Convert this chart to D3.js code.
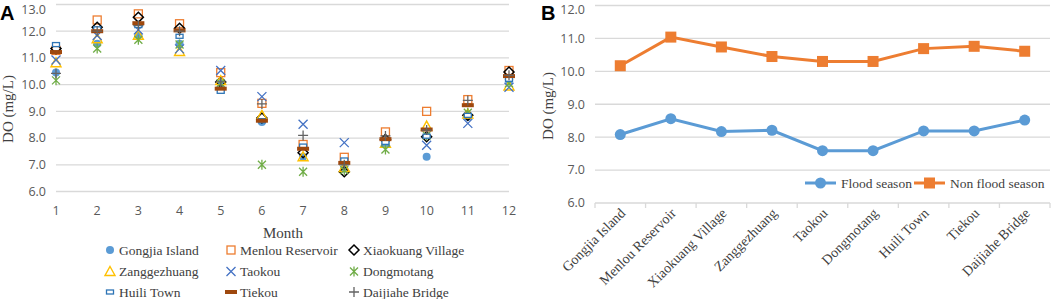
<!DOCTYPE html>
<html>
<head>
<meta charset="utf-8">
<script src="https://cdn.jsdelivr.net/npm/d3@7"></script>
<style>
  body { margin: 0; background: #fff; }
  .tick-label { font-family: "Open Sans", sans-serif; font-size: 12.5px; fill: #595959; }
  .serif { font-family: "Liberation Serif", "DejaVu Serif", serif; fill: #404040; }
  .panel { font-family: "Liberation Sans", Arial, sans-serif; font-weight: bold; font-size: 20px; fill: #000; }
</style>
</head>
<body>
<div id="chart"></div>
<script>
// ---- panel A data (DO by month, per site) ----
var months = [1, 2, 3, 4, 5, 6, 7, 8, 9, 10, 11, 12];
var gongjia      = [10.45, 11.53, 11.84, 11.53, 10.05, 8.60, 7.30, 6.85, 7.80, 7.30, 8.80, 10.15];
var menlou       = [11.28, 12.42, 12.65, 12.28, 10.45, 9.30, 7.76, 7.28, 8.23, 9.00, 9.44, 10.53];
var xiaokuang    = [11.35, 12.15, 12.52, 12.11, 10.10, 8.75, 7.45, 6.74, 7.95, 8.05, 8.85, 10.47];
var zanggezhuang = [10.82, 11.72, 11.85, 11.24, 10.15, 8.85, 7.30, 6.90, 7.80, 8.45, 8.90, 9.95];
var taokou       = [10.92, 11.84, 12.05, 11.34, 10.53, 9.55, 8.52, 7.83, 7.85, 7.73, 8.55, 9.90];
var dongmotang   = [10.16, 11.35, 11.68, 11.50, 10.05, 7.00, 6.74, 6.80, 7.57, 8.10, 8.95, 10.05];
var huili        = [11.50, 12.09, 12.21, 11.81, 9.75, 8.65, 7.70, 7.18, 7.84, 8.07, 8.85, 10.20];
var tiekou       = [11.22, 12.00, 12.30, 12.03, 9.85, 8.65, 7.60, 7.07, 7.96, 8.32, 9.23, 10.32];
var daijiahe     = [10.42, 12.00, 12.21, 12.00, 10.10, 9.28, 8.10, 7.00, 8.08, 8.30, 9.41, 10.35];

// ---- panel B data (seasonal mean per site) ----
var sites = ["Gongjia Island", "Menlou Reservoir", "Xiaokuang Village", "Zanggezhuang", "Taokou",
             "Dongmotang", "Huili Town", "Tiekou", "Daijiahe Bridge"];
var flood    = [8.08, 8.56, 8.17, 8.21, 7.59, 7.59, 8.19, 8.19, 8.52];
var nonFlood = [10.17, 11.04, 10.74, 10.45, 10.30, 10.30, 10.69, 10.76, 10.61];

var yTicksA = [6, 7, 8, 9, 10, 11, 12, 13];
var yTicksB = [6, 7, 8, 9, 10, 11, 12];

var seriesA = [
  { name: "Gongjia Island",    values: gongjia,      shape: "circle",   color: "#5B9BD5" },
  { name: "Menlou Reservoir",  values: menlou,       shape: "square",   color: "#ED7D31" },
  { name: "Xiaokuang Village", values: xiaokuang,    shape: "diamond",  color: "#000000" },
  { name: "Zanggezhuang",      values: zanggezhuang, shape: "triangle", color: "#FFC000" },
  { name: "Taokou",            values: taokou,       shape: "x",        color: "#4472C4" },
  { name: "Dongmotang",        values: dongmotang,   shape: "star",     color: "#70AD47" },
  { name: "Huili Town",        values: huili,        shape: "dash",     color: "#2E75B6" },
  { name: "Tiekou",            values: tiekou,       shape: "bar",      color: "#9E480E" },
  { name: "Daijiahe Bridge",   values: daijiahe,     shape: "plus",     color: "#636363" }
];

var svg = d3.select("#chart").append("svg")
  .attr("width", 1052)
  .attr("height", 299);

// draw one marker centred on (0,0) of the given group
function marker(g, shape, color) {
  if (shape === "circle") {
    g.append("circle").attr("r", 4).attr("fill", color);
  } else if (shape === "square") {
    g.append("rect").attr("x", -4).attr("y", -4).attr("width", 8).attr("height", 8)
      .attr("fill", "none").attr("stroke", color).attr("stroke-width", 1.3);
  } else if (shape === "diamond") {
    g.append("path").attr("d", "M0,-5L5,0L0,5L-5,0Z")
      .attr("fill", "none").attr("stroke", color).attr("stroke-width", 1.5);
  } else if (shape === "triangle") {
    g.append("path").attr("d", "M0,-5L5,4L-5,4Z")
      .attr("fill", "none").attr("stroke", color).attr("stroke-width", 1.4);
  } else if (shape === "x") {
    g.append("path").attr("d", "M-4.5,-4.5L4.5,4.5M-4.5,4.5L4.5,-4.5")
      .attr("stroke", color).attr("stroke-width", 1.3);
  } else if (shape === "star") {
    g.append("path").attr("d", "M-4,-4L4,4M-4,4L4,-4M0,-5L0,5")
      .attr("stroke", color).attr("stroke-width", 1.3);
  } else if (shape === "dash") {
    g.append("rect").attr("x", -3.5).attr("y", -2).attr("width", 7).attr("height", 4)
      .attr("fill", "#fff").attr("stroke", color).attr("stroke-width", 1.3);
  } else if (shape === "bar") {
    g.append("rect").attr("x", -6).attr("y", -2).attr("width", 12).attr("height", 4)
      .attr("fill", color);
  } else if (shape === "plus") {
    g.append("path").attr("d", "M-5,0L5,0M0,-5L0,5")
      .attr("stroke", color).attr("stroke-width", 1.3);
  }
}

// ================= Panel A =================
var xA = d3.scaleLinear().domain([1, 12]).range([56, 509]);
var yA = d3.scaleLinear().domain([6, 13]).range([191.5, 4.5]);

var gA = svg.append("g");

gA.selectAll(".gridA").data(yTicksA).enter().append("line")
  .attr("x1", xA(1)).attr("x2", xA(12))
  .attr("y1", function (d) { return yA(d); }).attr("y2", function (d) { return yA(d); })
  .attr("stroke", "#d9d9d9").attr("stroke-width", 1.3);

gA.selectAll(".ylabA").data(yTicksA).enter().append("text")
  .attr("class", "tick-label")
  .attr("x", 46).attr("y", function (d) { return Math.max(yA(d), 9.5); })
  .attr("dy", "0.35em").attr("text-anchor", "end")
  .text(function (d) { return d.toFixed(1); });

gA.selectAll(".xlabA").data(months).enter().append("text")
  .attr("class", "tick-label")
  .attr("x", function (d) { return xA(d); }).attr("y", 215)
  .attr("text-anchor", "middle")
  .text(function (d) { return d; });

gA.append("text").attr("class", "serif")
  .attr("x", 283).attr("y", 238).attr("text-anchor", "middle")
  .style("font-size", "15px").text("Month");

gA.append("text").attr("class", "serif")
  .attr("transform", "translate(13,109) rotate(-90)")
  .attr("text-anchor", "middle").style("font-size", "15px")
  .text("DO (mg/L)");

seriesA.forEach(function (s) {
  s.values.forEach(function (v, i) {
    var g = gA.append("g").attr("transform", "translate(" + xA(months[i]) + "," + yA(v) + ")");
    marker(g, s.shape, s.color);
  });
});

// legend A, 3 columns
var legCols = [110, 231, 354];
var legRows = [250, 271.5, 292];
seriesA.forEach(function (s, i) {
  var cx = legCols[i % 3], cy = legRows[Math.floor(i / 3)];
  var g = gA.append("g").attr("transform", "translate(" + cx + "," + cy + ")");
  marker(g, s.shape, s.color);
  gA.append("text").attr("class", "serif")
    .attr("x", cx + 9).attr("y", cy).attr("dy", "0.35em")
    .style("font-size", "13.5px").text(s.name);
});

svg.append("text").attr("class", "panel").attr("x", 0).attr("y", 20).text("A");

// ================= Panel B =================
var xB = d3.scaleBand().domain(sites).range([595, 1050]).padding(0);
var yB = d3.scaleLinear().domain([6, 12]).range([203, 5.5]);

var gB = svg.append("g");

gB.selectAll(".gridB").data(yTicksB).enter().append("line")
  .attr("x1", 595).attr("x2", 1050)
  .attr("y1", function (d) { return yB(d); }).attr("y2", function (d) { return yB(d); })
  .attr("stroke", "#d9d9d9").attr("stroke-width", 1.3);

// category ticks on the bottom axis
var bounds = sites.map(function (d) { return xB(d); }).concat([1050]);
gB.selectAll(".tickB").data(bounds).enter().append("line")
  .attr("x1", function (d) { return d; }).attr("x2", function (d) { return d; })
  .attr("y1", yB(6)).attr("y2", yB(6) + 5)
  .attr("stroke", "#d9d9d9").attr("stroke-width", 1.3);

gB.selectAll(".ylabB").data(yTicksB).enter().append("text")
  .attr("class", "tick-label")
  .attr("x", 585).attr("y", function (d) { return Math.max(yB(d), 9.5); })
  .attr("dy", "0.35em").attr("text-anchor", "end")
  .text(function (d) { return d.toFixed(1); });

gB.selectAll(".xlabB").data(sites).enter().append("text")
  .attr("class", "serif")
  .attr("transform", function (d) {
    return "translate(" + (xB(d) + xB.bandwidth() / 2 + 6) + "," + 214 + ") rotate(-45)";
  })
  .attr("text-anchor", "end").style("font-size", "14px")
  .text(function (d) { return d; });

gB.append("text").attr("class", "serif")
  .attr("transform", "translate(553,106) rotate(-90)")
  .attr("text-anchor", "middle").style("font-size", "15px")
  .text("DO (mg/L)");

var lineB = d3.line()
  .x(function (d, i) { return xB(sites[i]) + xB.bandwidth() / 2; })
  .y(function (d) { return yB(d); });

gB.append("path").datum(flood).attr("d", lineB)
  .attr("fill", "none").attr("stroke", "#5B9BD5").attr("stroke-width", 3);
gB.selectAll(".ptF").data(flood).enter().append("circle")
  .attr("cx", function (d, i) { return xB(sites[i]) + xB.bandwidth() / 2; })
  .attr("cy", function (d) { return yB(d); })
  .attr("r", 5.5).attr("fill", "#5B9BD5");

gB.append("path").datum(nonFlood).attr("d", lineB)
  .attr("fill", "none").attr("stroke", "#ED7D31").attr("stroke-width", 3);
gB.selectAll(".ptN").data(nonFlood).enter().append("rect")
  .attr("x", function (d, i) { return xB(sites[i]) + xB.bandwidth() / 2 - 5.5; })
  .attr("y", function (d) { return yB(d) - 5.5; })
  .attr("width", 11).attr("height", 11).attr("fill", "#ED7D31");

// legend B
var legB = [
  { name: "Flood season", color: "#5B9BD5", x: 805 },
  { name: "Non flood season", color: "#ED7D31", x: 914 }
];
legB.forEach(function (l, i) {
  var y = 183;
  gB.append("line").attr("x1", l.x).attr("x2", l.x + 31).attr("y1", y).attr("y2", y)
    .attr("stroke", l.color).attr("stroke-width", 3);
  if (i === 0) {
    gB.append("circle").attr("cx", l.x + 15.5).attr("cy", y).attr("r", 5.5).attr("fill", l.color);
  } else {
    gB.append("rect").attr("x", l.x + 10).attr("y", y - 5.5).attr("width", 11).attr("height", 11)
      .attr("fill", l.color);
  }
  gB.append("text").attr("class", "serif")
    .attr("x", l.x + 36).attr("y", y).attr("dy", "0.35em")
    .style("font-size", "13.5px").text(l.name);
});

svg.append("text").attr("class", "panel").attr("x", 541).attr("y", 20).text("B");
</script>
</body>
</html>
